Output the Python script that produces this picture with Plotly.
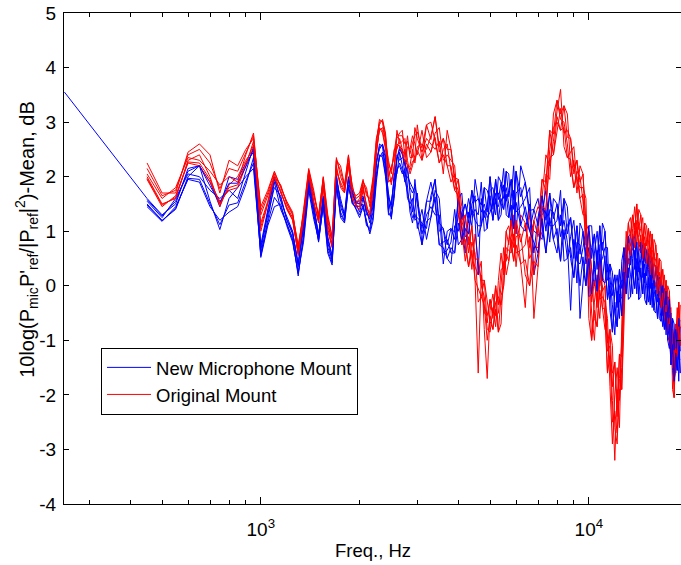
import plotly.graph_objects as go

# Frequency bins (Hz)
freq_hz = list(range(450, 3001, 50)) + list(range(3100, 6001, 100)) + list(range(6200, 19001, 200))

# One "new mount" run also has a lower-frequency starting point
lead_freq = [252]
lead_val = [3.55]

blue_1 = [
    1.6, 1.3, 1.5, 2.15, 2.2, 1.9, 1.45, 2.0, 1.95, 2.25,
    2.45, 0.75, 1.4, 2.0, 1.55, 1.25, 1.0, 0.35, 1.2, 2.0,
    1.5, 0.9, 1.65, 0.9, 0.55, 1.95, 1.6, 1.3, 2.0, 1.65,
    1.55, 1.55, 1.65, 1.3, 1.3, 1.6, 2.3, 2.5, 2.6, 2.4,
    1.4, 1.55, 1.9, 2.3, 2.55, 2.5, 2.0, 2.2, 1.7, 1.35,
    1.95, 1.5,
    0.95, 1.3, 1.45, 1.3, 1.3, 0.4, 1.0, 1.05, 0.85, 1.3,
    1.1, 0.6, 1.35, 1.1, 1.95, 1.6, 1.35, 1.5, 1.25, 1.35,
    1.55, 1.3, 2.0, 1.9, 1.6, 1.8, 1.5, 1.1, 1.75, 0.95,
    2.2, 1.9, 1.25, 1.0, 0.95, 0.85, 1.4, 0.8, 1.6, 1.5,
    0.9, 1.2, 0.8, -0.45, 0.85, 0.05, 1.15, 1.0, 0.4, 0.7,
    0.3, 0.0, 0.65, 0.0, 1.15, 1.0, 0.1, 0.15, -0.35, -0.9,
    -0.1, -0.6, 0.45, 0.7, 0.15, 0.5, 0.2, -0.15, 0.65, -0.15,
    0.7, 0.8, 0.15, 0.4, 0.0, -0.3, 0.25, -0.4, 0.4, 0.35,
    -0.3, -0.1, -0.4, -0.75, -0.3, -0.9, -0.2, -0.25, -1.1, -0.9,
    -1.35, -1.6, -1.0, -1.75, -0.75,
]
blue_2 = [
    1.55, 1.25, 1.6, 2.05, 2.0, 1.75, 1.6, 1.75, 1.6, 2.1,
    2.55, 0.65, 1.3, 1.8, 1.65, 1.2, 0.95, 0.42, 1.05, 1.85,
    1.4, 0.95, 1.6, 0.7, 0.5, 2.05, 1.45, 1.25, 1.85, 1.75,
    1.5, 1.35, 1.6, 1.4, 1.15, 1.35, 2.2, 2.6, 2.55, 2.1,
    1.7, 1.4, 2.05, 2.05, 2.45, 2.2, 1.9, 2.0, 1.9, 1.8,
    1.7, 1.05,
    1.4, 0.85, 1.25, 1.75, 1.6, 0.6, 0.65, 0.8, 1.4, 0.75,
    0.85, 1.2, 1.6, 1.3, 1.4, 1.3, 1.9, 1.0, 1.05, 1.75,
    1.8, 1.5, 1.45, 1.7, 2.15, 1.3, 1.25, 1.6, 2.2, 1.35,
    1.45, 1.6, 1.8, 0.2, 0.6, 1.35, 1.75, 1.1, 1.1, 1.2,
    1.75, 0.45, 0.5, 0.9, 1.2, 0.45, 0.4, 0.7, 1.05, -0.2,
    -0.15, 0.6, 1.0, 0.4, 0.5, 0.7, 0.7, -0.45, -0.85, -0.1,
    0.2, -0.3, -0.2, 0.4, 0.7, -0.25, -0.2, 0.5, 1.0, 0.2,
    0.1, 0.5, 0.75, -0.25, -0.35, 0.3, 0.55, -0.1, -0.2, 0.05,
    0.2, -0.6, -0.65, -0.25, -0.05, -0.6, -0.7, -0.55, -0.5, -1.55,
    -1.75, -1.1, -0.7, -1.35, -1.35,
]
blue_3 = [
    1.5, 1.2, 1.4, 2.0, 2.2, 1.55, 1.03, 1.6, 1.8, 2.0,
    2.15, 0.58, 1.2, 1.9, 1.4, 1.15, 0.88, 0.18, 0.95, 1.9,
    1.3, 0.8, 1.5, 0.8, 0.45, 1.8, 1.35, 1.2, 1.95, 1.5,
    1.45, 1.45, 1.5, 1.1, 1.05, 1.5, 2.05, 2.35, 2.45, 2.25,
    1.3, 1.3, 1.6, 2.4, 2.3, 2.35, 2.3, 1.8, 1.35, 1.15,
    1.45, 1.7,
    0.75, 1.55, 1.9, 1.5, 0.75, 0.8, 0.85, 0.6, 0.6, 1.6,
    1.7, 0.9, 0.95, 1.5, 1.65, 0.9, 1.1, 1.8, 1.75, 1.55,
    1.2, 1.7, 1.7, 1.5, 1.4, 2.1, 2.05, 1.35, 1.05, 1.7,
    1.8, 1.3, 1.0, 1.4, 1.6, 1.1, 0.6, 1.4, 1.35, 0.9,
    0.45, 1.6, 1.45, 0.5, 0.15, 0.8, 0.75, 0.35, 0.0, 1.1,
    1.1, 0.3, -0.1, 0.75, 0.8, 0.4, -0.25, 0.4, 0.25, -0.5,
    -0.75, 0.0, 0.1, 0.1, -0.15, 0.9, 0.95, 0.2, -0.05, 0.5,
    0.4, 0.15, -0.15, 0.7, 0.65, 0.0, -0.35, 0.2, 0.1, -0.2,
    -0.6, 0.15, 0.1, -0.5, -0.8, -0.35, -0.45, -0.85, -1.45, -0.6,
    -0.7, -1.35, -1.55, -1.0, -1.05,
]
blue_4 = [
    1.45, 1.18, 1.45, 1.95, 1.9, 1.45, 1.2, 1.35, 1.45, 1.85,
    2.35, 0.52, 1.1, 1.45, 1.5, 1.1, 0.8, 0.25, 0.8, 1.75,
    1.22, 0.85, 1.45, 0.6, 0.38, 1.9, 1.25, 1.15, 1.8, 1.55,
    1.4, 1.25, 1.45, 1.2, 0.95, 1.2, 1.9, 2.4, 2.35, 2.0,
    1.55, 1.22, 1.75, 2.15, 2.2, 2.05, 2.15, 1.6, 1.5, 1.6,
    1.2, 1.25,
    1.15, 1.05, 1.65, 1.95, 1.0, 1.05, 0.5, 0.4, 1.1, 1.0,
    1.35, 1.5, 1.15, 1.75, 1.2, 0.2, 1.6, 1.25, 1.45, 2.0,
    1.4, 1.95, 1.2, 1.3, 1.85, 1.55, 1.75, 1.95, 1.4, 2.1,
    1.1, 1.0, 1.5, 0.6, 1.25, 1.65, 1.0, 1.7, 0.85, 0.6,
    1.3, 0.85, 1.1, 1.25, 0.5, 1.1, -0.6, 0.05, 0.7, 0.3,
    0.7, 0.95, 0.3, 1.1, 0.1, 0.05, 0.4, -0.15, 0.0, 0.2,
    -0.4, 0.3, -0.55, -0.2, 0.45, 0.15, 0.55, 0.9, 0.3, 0.8,
    -0.25, -0.2, 0.45, 0.05, 0.35, 0.6, -0.05, 0.5, -0.45, -0.5,
    -0.05, -0.35, -0.15, 0.0, -0.55, -0.1, -1.0, -1.15, -0.8, -1.25,
    -1.0, -0.8, -1.3, -0.6, -1.6,
]
blue_5 = [
    1.58, 1.28, 1.55, 2.1, 2.2, 1.83, 1.52, 1.88, 1.88, 2.18,
    2.5, 0.7, 1.35, 1.95, 1.6, 1.22, 0.98, 0.38, 1.12, 1.95,
    1.45, 0.92, 1.62, 0.85, 0.52, 2.0, 1.52, 1.28, 1.98, 1.7,
    1.52, 1.5, 1.62, 1.35, 1.22, 1.55, 2.25, 2.55, 2.58, 2.32,
    1.62, 1.48, 1.98, 2.35, 2.5, 2.42, 2.22, 2.1, 1.8, 1.7,
    1.82, 1.6,
    1.05, 1.55, 1.55, 1.95, 1.15, 1.05, 0.75, 1.05, 0.98, 1.6,
    1.23, 1.5, 1.25, 1.75, 1.53, 1.6, 1.48, 1.8, 1.35, 2.0,
    1.48, 1.95, 1.58, 1.9, 1.73, 2.1, 1.63, 1.95, 1.58, 2.1,
    1.63, 1.9, 1.38, 1.4, 1.1, 1.65, 1.2, 1.7, 1.23, 1.5,
    1.1, 1.6, 0.95, 1.25, 0.68, 1.1, 0.58, 1.0, 0.55, 1.1,
    0.5, 0.95, 0.48, 1.1, 0.65, 1.0, 0.25, 0.4, -0.18, 0.2,
    -0.25, 0.3, -0.05, 0.7, 0.3, 0.9, 0.38, 0.9, 0.48, 0.8,
    0.25, 0.8, 0.3, 0.7, 0.18, 0.6, 0.1, 0.5, -0.05, 0.35,
    -0.18, 0.15, -0.28, 0.0, -0.43, -0.1, -0.58, -0.25, -0.95, -0.6,
    -1.18, -0.8, -1.15, -0.6, -1.2,
]
blue_6 = [
    1.48, 1.19, 1.42, 1.97, 1.95, 1.5, 1.12, 1.48, 1.52, 1.92,
    2.25, 0.55, 1.15, 1.62, 1.45, 1.12, 0.84, 0.22, 0.88, 1.8,
    1.26, 0.82, 1.48, 0.65, 0.42, 1.85, 1.3, 1.18, 1.82, 1.52,
    1.42, 1.3, 1.48, 1.15, 1.0, 1.28, 1.98, 2.38, 2.4, 2.05,
    1.35, 1.26, 1.68, 2.1, 2.25, 2.12, 1.95, 1.7, 1.42, 1.25,
    1.32, 1.15,
    0.75, 1.18, 1.25, 1.63, 0.75, 0.7, 0.5, 0.7, 0.6, 1.15,
    0.85, 1.05, 0.95, 1.4, 1.2, 1.1, 1.1, 1.38, 1.05, 1.65,
    1.2, 1.6, 1.2, 1.6, 1.4, 1.68, 1.25, 1.48, 1.05, 1.53,
    1.1, 1.45, 1.0, 0.8, 0.6, 1.23, 0.6, 1.25, 0.85, 1.05,
    0.45, 1.03, 0.5, 0.7, 0.15, 0.63, 0.0, 0.53, 0.0, 0.5,
    -0.15, 0.45, -0.1, 0.58, 0.1, 0.55, -0.25, 0.0, -0.85, -0.3,
    -0.75, -0.15, -0.55, 0.25, -0.15, 0.33, -0.2, 0.35, -0.05, 0.35,
    -0.25, 0.33, -0.15, 0.23, -0.35, 0.15, -0.35, 0.05, -0.45, -0.08,
    -0.6, -0.23, -0.65, -0.38, -0.8, -0.48, -1.0, -0.7, -1.45, -1.08,
    -1.75, -1.23, -1.55, -1.18, -1.6,
]

red_1 = [
    2.25, 1.7, 1.7, 2.45, 2.6, 2.4, 1.7, 2.3, 2.2, 2.5,
    2.7, 1.45, 1.75, 2.1, 1.8, 1.55, 1.35, 0.65, 1.4, 2.15,
    1.75, 1.25, 2.0, 1.3, 0.9, 2.3, 2.2, 1.85, 2.4, 1.75,
    1.65, 1.7, 1.95, 1.65, 1.6, 2.0, 2.7, 2.95, 3.05, 2.8,
    2.0, 2.2, 2.35, 2.7, 2.8, 2.85, 2.35, 2.75, 2.35, 2.35,
    2.9, 2.7,
    2.45, 2.7, 2.6, 2.5, 2.65, 2.05, 2.85, 2.5, 1.9, 1.75,
    1.0, 0.45, 0.9, 0.3, 0.95, 0.5, 0.0, -0.2, -0.8, -0.85,
    -0.4, -0.75, 0.1, 0.6, 0.2, 0.7, 0.65, 0.6, 0.95, 0.35,
    1.3, 1.15, 0.5, 0.7, 0.7, 1.0, 2.05, 1.95, 3.15, 3.4,
    3.05, 3.0, 2.6, 2.0, 2.3, 1.7, 2.2, 2.05, 1.0, 0.5,
    -0.5, -1.0, -0.1, -0.6, 0.2, 0.0, -1.2, -1.1, -2.1, -3.2,
    -1.9, -2.6, -0.7, 0.5, 0.5, 0.9, 0.75, 0.65, 1.15, 0.75,
    1.4, 1.3, 0.7, 0.9, 0.6, 0.35, 0.7, 0.15, 0.85, 0.75,
    0.1, 0.25, -0.15, -0.55, -0.1, -0.8, 0.0, -0.1, -1.0, -1.1,
    -1.7, -1.6, -0.7, -1.15, -0.35,
]
red_2 = [
    2.05, 1.6, 1.8, 2.35, 2.3, 2.1, 1.85, 2.0, 1.9, 2.4,
    2.8, 1.3, 1.65, 2.0, 1.85, 1.5, 1.3, 0.75, 1.3, 2.05,
    1.65, 1.3, 1.95, 1.1, 0.85, 2.35, 2.0, 1.8, 2.25, 1.85,
    1.55, 1.5, 1.9, 1.8, 1.45, 1.8, 2.6, 3.05, 3.0, 2.6,
    2.3, 2.05, 2.5, 2.5, 2.7, 2.5, 2.2, 2.55, 2.5, 2.75,
    2.6, 2.4,
    2.85, 2.35, 2.45, 2.8, 2.9, 2.3, 2.4, 2.3, 2.2, 1.35,
    0.75, 1.0, 1.2, 0.5, 0.35, 0.2, 0.45, -0.8, -1.7, -0.45,
    -0.15, -0.55, -0.5, 0.0, 0.7, 0.2, 0.45, 0.95, 1.3, 0.6,
    0.65, 0.75, 1.4, -0.6, 0.35, 1.6, 2.4, 2.2, 2.65, 3.2,
    3.6, 2.55, 2.35, 2.45, 2.55, 1.9, 1.8, 1.8, 1.6, -0.6,
    -1.0, -0.3, 0.2, -0.25, -0.2, -0.3, -0.6, -1.85, -2.9, -2.0,
    -1.5, -2.1, -1.5, 0.0, 1.0, 0.4, 0.55, 1.05, 1.45, 0.95,
    0.9, 1.05, 1.25, 0.45, 0.4, 0.8, 1.0, 0.4, 0.35, 0.5,
    0.6, -0.25, -0.4, 0.0, 0.2, -0.5, -0.6, -0.45, -0.4, -1.9,
    -2.05, -1.0, -0.4, -0.9, -0.9,
]
red_3 = [
    2.0, 1.5, 1.6, 2.3, 2.4, 2.0, 1.45, 1.85, 2.0, 2.3,
    2.5, 1.15, 1.55, 2.05, 1.7, 1.45, 1.25, 0.55, 1.25, 2.1,
    1.55, 1.15, 1.85, 1.2, 0.75, 2.1, 1.9, 1.75, 2.35, 1.55,
    1.5, 1.6, 1.85, 1.4, 1.35, 1.9, 2.5, 2.85, 2.9, 2.7,
    1.9, 1.95, 2.1, 2.85, 2.6, 2.65, 2.7, 2.3, 2.05, 2.2,
    2.4, 2.95,
    2.3, 2.95, 3.0, 2.65, 2.25, 2.5, 2.6, 2.1, 1.75, 1.95,
    1.45, 0.7, 0.35, 0.8, 0.6, -0.3, -0.2, 0.1, -0.3, -0.65,
    -0.8, -0.3, -0.2, -0.35, 0.0, 1.0, 1.1, 0.75, 0.45, 0.9,
    0.95, 0.2, 0.0, 1.2, 1.45, 1.3, 1.4, 2.5, 2.9, 3.0,
    2.85, 3.3, 3.15, 2.2, 1.8, 2.1, 2.0, 1.55, 0.75, 1.0,
    0.3, -0.6, -0.75, 0.1, 0.0, -0.55, -1.6, -0.8, -1.1, -2.6,
    -2.9, -1.7, -1.1, -0.4, 0.25, 1.15, 1.25, 0.85, 0.7, 1.2,
    1.15, 0.8, 0.5, 1.15, 1.1, 0.55, 0.2, 0.65, 0.6, 0.25,
    -0.15, 0.5, 0.45, -0.25, -0.65, -0.2, -0.3, -0.75, -1.4, -0.8,
    -1.1, -1.3, -1.3, -0.6, -0.65,
]
red_4 = [
    1.95, 1.45, 1.65, 2.25, 2.2, 1.9, 1.55, 1.75, 1.8, 2.2,
    2.65, 1.0, 1.5, 1.95, 1.75, 1.4, 1.2, 0.6, 1.15, 2.0,
    1.5, 1.2, 1.8, 1.0, 0.7, 2.2, 1.8, 1.7, 2.2, 1.65,
    1.45, 1.4, 1.75, 1.5, 1.25, 1.7, 2.4, 2.9, 2.8, 2.5,
    2.15, 1.85, 2.2, 2.6, 2.55, 2.4, 2.5, 2.15, 2.2, 2.5,
    2.25, 2.55,
    2.6, 2.5, 2.75, 3.1, 2.45, 2.7, 2.2, 1.9, 2.05, 1.55,
    1.2, 1.3, 0.6, 1.1, 0.1, -1.6, 0.2, -0.5, -0.55, -0.25,
    -0.6, 0.0, -0.85, -0.7, 0.45, 0.45, 0.85, 1.2, 0.7, 1.2,
    0.4, -0.4, 0.9, 0.2, 1.1, 1.95, 1.75, 2.85, 2.4, 2.85,
    3.25, 2.8, 2.85, 2.7, 2.05, 2.3, 1.6, 1.3, 1.3, 0.0,
    -0.1, 0.1, -0.4, 0.5, -0.4, -0.8, -0.9, -1.45, -1.6, -1.4,
    -2.4, -1.25, -1.9, -0.7, 0.75, 0.65, 1.0, 1.3, 0.9, 1.5,
    0.7, 0.6, 0.95, 0.65, 0.85, 1.05, 0.45, 0.95, 0.1, 0.0,
    0.35, 0.0, 0.15, 0.3, -0.35, 0.1, -0.9, -1.05, -0.7, -1.5,
    -1.4, -0.7, -1.0, -0.3, -1.1,
]
red_5 = [
    2.15, 1.65, 1.75, 2.4, 2.5, 2.25, 1.78, 2.15, 2.1, 2.45,
    2.75, 1.38, 1.7, 2.08, 1.82, 1.52, 1.32, 0.7, 1.35, 2.12,
    1.7, 1.28, 1.98, 1.25, 0.88, 2.32, 2.1, 1.82, 2.38, 1.8,
    1.6, 1.65, 1.92, 1.72, 1.52, 1.95, 2.65, 3.0, 3.02, 2.75,
    2.22, 2.12, 2.42, 2.78, 2.75, 2.75, 2.6, 2.65, 2.42, 2.62,
    2.75, 2.82,
    2.52, 2.95, 2.68, 3.1, 2.55, 2.7, 2.5, 2.5, 1.98, 1.95,
    1.1, 1.3, 0.75, 1.1, 0.48, 0.5, 0.1, 0.1, -0.68, -0.25,
    -0.5, 0.0, -0.35, 0.3, 0.33, 1.0, 0.75, 1.2, 0.83, 1.2,
    0.8, 1.15, 0.7, 1.2, 0.9, 1.95, 1.9, 2.85, 2.78, 3.4,
    3.15, 3.3, 2.72, 2.7, 2.18, 2.3, 1.9, 2.05, 1.15, 1.0,
    -0.3, 0.1, -0.25, 0.5, -0.1, 0.0, -1.05, -0.8, -1.85, -1.4,
    -2.15, -1.25, -1.3, 0.5, 0.62, 1.15, 0.88, 1.3, 1.03, 1.5,
    1.03, 1.3, 0.83, 1.15, 0.73, 1.05, 0.58, 0.95, 0.48, 0.75,
    0.23, 0.5, 0.0, 0.3, -0.23, 0.1, -0.45, -0.1, -0.85, -0.8,
    -1.55, -0.7, -0.85, -0.3, -0.78,
]
red_6 = [
    1.97, 1.48, 1.62, 2.27, 2.25, 1.95, 1.5, 1.8, 1.85, 2.25,
    2.58, 1.08, 1.52, 1.98, 1.72, 1.42, 1.22, 0.58, 1.2, 2.02,
    1.52, 1.18, 1.82, 1.05, 0.72, 2.15, 1.85, 1.72, 2.22, 1.6,
    1.48, 1.45, 1.8, 1.45, 1.3, 1.75, 2.45, 2.88, 2.85, 2.55,
    1.95, 1.9, 2.15, 2.55, 2.58, 2.45, 2.28, 2.22, 2.12, 2.28,
    2.32, 2.48,
    2.3, 2.6, 2.45, 2.72, 2.25, 2.4, 2.2, 2.2, 1.75, 1.65,
    0.75, 0.85, 0.35, 0.65, 0.1, -0.05, -0.2, -0.35, -1.0, -0.55,
    -0.8, -0.43, -0.85, -0.18, 0.0, 0.58, 0.45, 0.85, 0.45, 0.75,
    0.4, 0.48, 0.0, 0.45, 0.35, 1.45, 1.4, 2.35, 2.4, 3.1,
    2.85, 2.9, 2.35, 2.32, 1.8, 2.0, 1.6, 1.68, 0.75, 0.25,
    -1.0, -0.45, -0.75, -0.08, -0.4, -0.43, -1.6, -1.28, -2.5, -2.3,
    -2.7, -1.9, -1.9, -0.2, 0.25, 0.78, 0.55, 0.95, 0.7, 1.08,
    0.7, 0.93, 0.5, 0.78, 0.4, 0.68, 0.2, 0.53, 0.1, 0.38,
    -0.15, 0.13, -0.4, -0.13, -0.65, -0.35, -0.9, -0.6, -1.4, -1.3,
    -2.05, -1.15, -1.3, -0.75, -1.1,
]

blue_runs = [blue_1, blue_2, blue_3, blue_4, blue_5, blue_6]
red_runs = [red_1, red_2, red_3, red_4, red_5, red_6]

x_major = [1000, 10000]
x_major_text = ["10<sup>3</sup>", "10<sup>4</sup>"]
x_minor = [300, 400, 500, 600, 700, 800, 900, 2000, 3000, 4000, 5000, 6000, 7000, 8000, 9000]
y_ticks = [-4, -3, -2, -1, 0, 1, 2, 3, 4, 5]
y_tick_text = ["-4", "-3", "-2", "-1", "0", "1", "2", "3", "4", "5"]

x_title = "Freq., Hz"
y_title = "10log(P<sub>mic</sub>P'<sub>ref</sub>/|P<sub>ref</sub>|<sup>2</sup>)-Mean, dB"

BLUE = "#0000FF"
RED = "#FF0000"
FONT = "Arial, Liberation Sans, sans-serif"

fig = go.Figure()
for k in range(len(blue_runs)):
    fig.add_trace(go.Scatter(
        x=freq_hz, y=red_runs[k], mode="lines",
        line=dict(color=RED, width=1),
        name="Original Mount", showlegend=(k == 0), legendrank=2,
    ))
    if k == 0:
        bx = lead_freq + freq_hz
        by = lead_val + blue_runs[k]
    else:
        bx = freq_hz
        by = blue_runs[k]
    fig.add_trace(go.Scatter(
        x=bx, y=by, mode="lines",
        line=dict(color=BLUE, width=1),
        name="New Microphone Mount", showlegend=(k == 0), legendrank=1,
    ))

axis_common = dict(
    showline=True, linecolor="black", linewidth=1, mirror="ticks",
    ticks="inside", tickcolor="black", showgrid=False, zeroline=False,
    tickfont=dict(size=19), automargin=False,
)

fig.update_layout(
    width=681, height=565,
    margin=dict(l=64, r=0, t=13, b=61),
    paper_bgcolor="white", plot_bgcolor="white",
    font=dict(family=FONT, size=18, color="black"),
    xaxis=dict(
        type="log", range=[2.40, 4.281],
        tickmode="array", tickvals=x_major, ticktext=x_major_text, ticklen=7,
        ticklabelstandoff=8,
        minor=dict(tickmode="array", tickvals=x_minor, ticks="inside", ticklen=4,
                   tickcolor="black", showgrid=False),
        **axis_common,
    ),
    yaxis=dict(
        range=[-4, 5], tickmode="array", tickvals=y_ticks, ticktext=y_tick_text, ticklen=5,
        ticklabelstandoff=3,
        **axis_common,
    ),
    legend=dict(
        x=0.06, y=0.318, xanchor="left", yanchor="top",
        bgcolor="white", bordercolor="black", borderwidth=1,
        font=dict(size=18.5), tracegroupgap=0, itemwidth=44,
    ),
    annotations=[
        dict(text=x_title, xref="paper", yref="paper", x=0.5008, y=-0.0937,
             xanchor="center", yanchor="middle", showarrow=False, font=dict(size=18.5)),
        dict(text=y_title, xref="paper", yref="paper", x=-0.06, y=0.54, textangle=-90,
             xanchor="center", yanchor="middle", showarrow=False, font=dict(size=20)),
    ],
)

fig.write_html(
    "out.html",
    config={"displayModeBar": False},
    post_script="document.body.style.margin='0';document.body.style.padding='0';document.body.style.overflow='hidden';",
)
